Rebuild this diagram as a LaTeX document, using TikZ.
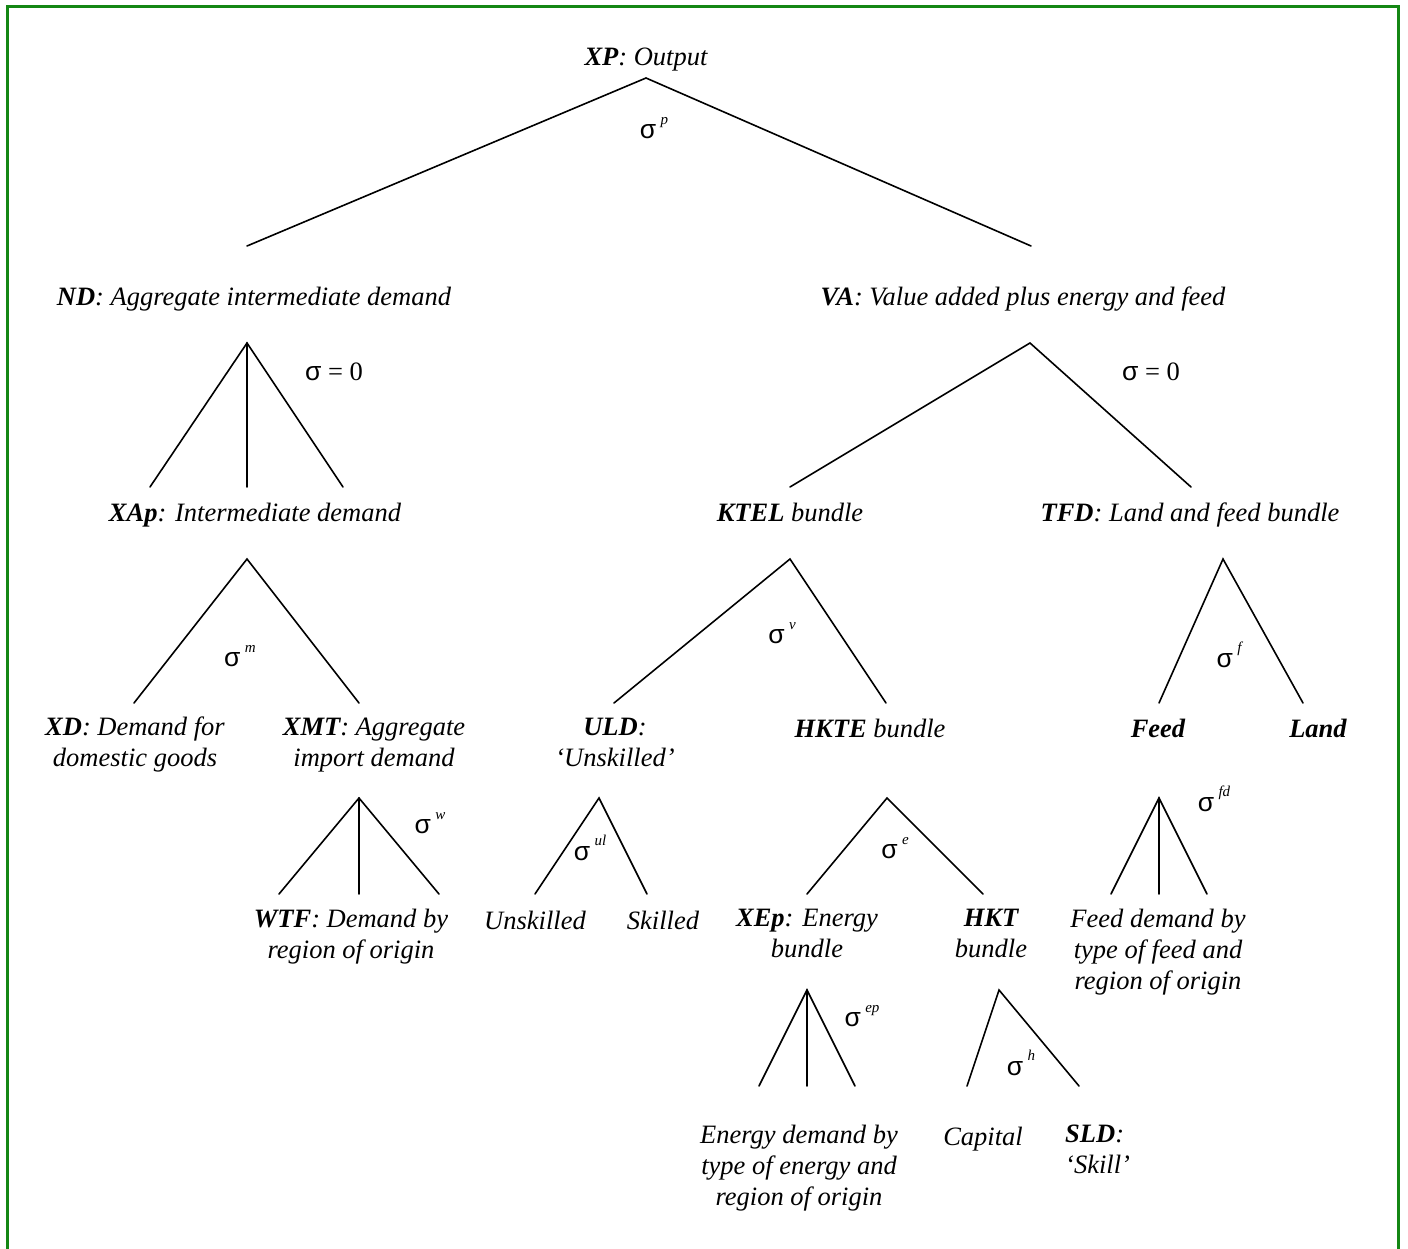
\documentclass[tikz,border=0pt]{standalone}
\usepackage{fontspec}
\setmainfont{Liberation Serif}
\newfontfamily\sigfont{Liberation Sans}
\newcommand\mysig{{\sigfont σ}}
\newcommand\mysup[1]{\,\raisebox{0.55em}{\fontsize{15}{15}\selectfont\itshape #1}}
\begin{document}
\begin{tikzpicture}[x=1pt,y=-1pt,
  lbl/.style={font=\fontsize{26.5}{31}\selectfont\itshape, inner sep=0pt, align=center,
    execute at begin node=\strut, execute at end node=\strut},
  sig/.style={font=\fontsize{26.5}{31}\selectfont\upshape, inner sep=0pt},
  branch/.style={line width=1.6pt, line cap=round},
  frame/.style={draw={rgb,255:red,20;green,135;blue,20}, line width=3pt}]
\useasboundingbox (0,0) rectangle (1408,1249);
\draw[frame] (7,1260) -- (7,7) -- (1398.5,7) -- (1398.5,1260);

% ---------- text nodes ----------
\node[lbl] (XP) at (646,59) {\textbf{XP}: Output};
\node[lbl] (ND) at (254,299) {\textbf{ND}: Aggregate intermediate demand};
\node[lbl] (VA) at (1023,299) {\textbf{VA}: Value added plus energy and feed};
\node[lbl] (XAp) at (255,515) {\textbf{XAp}: Intermediate demand};
\node[lbl] (KTEL) at (790,515) {\textbf{KTEL} bundle};
\node[lbl] (TFD) at (1190,515) {\textbf{TFD}: Land and feed bundle};
\node[lbl] (XD) at (135,746.5) {\textbf{XD}: Demand for\\domestic goods};
\node[lbl] (XMT) at (374,746.5) {\textbf{XMT}: Aggregate\\import demand};
\node[lbl] (ULD) at (615,746.5) {\textbf{ULD}:\\‘Unskilled’};
\node[lbl] (HKTE) at (870,731) {\textbf{HKTE} bundle};
\node[lbl] (Feed) at (1158,731) {\textbf{Feed}};
\node[lbl] (Land) at (1318,731) {\textbf{Land}};
\node[lbl] (WTF) at (351,938) {\textbf{WTF}: Demand by\\region of origin};
\node[lbl] (Unsk) at (535,923) {Unskilled};
\node[lbl] (Skil) at (663,923) {Skilled};
\node[lbl] (XEp) at (807,938) {\textbf{XEp}: Energy\\bundle};
\node[lbl] (HKT) at (991,938) {\textbf{HKT}\\bundle};
\node[lbl] (FeedDem) at (1158,953.5) {Feed demand by\\type of feed and\\region of origin};
\node[lbl] (EnDem) at (799,1169.5) {Energy demand by\\type of energy and\\region of origin};
\node[lbl] (Cap) at (983,1139) {Capital};
\node[lbl, align=left, anchor=west] (SLD) at (1065,1154) {\textbf{SLD}:\\‘Skill’};

% ---------- elasticity labels ----------
\node[sig] (sp) at (654,128) {\mysig\mysup{p}};
\node[sig] (s0a) at (334,372) {\mysig{} = 0};
\node[sig] (s0b) at (1151,372) {\mysig{} = 0};
\node[sig] (sm) at (240,656) {\mysig\mysup{m}};
\node[sig] (sv) at (782,633) {\mysig\mysup{v}};
\node[sig] (sf) at (1229,655) {\mysig\mysup{f}};
\node[sig] (sw) at (430,823) {\mysig\mysup{w}};
\node[sig] (sul) at (590,848) {\mysig\mysup{ul}};
\node[sig] (se) at (895,848) {\mysig\mysup{e}};
\node[sig] (sfd) at (1214,799) {\mysig\mysup{fd}};
\node[sig] (sep) at (862,1016) {\mysig\mysup{ep}};
\node[sig] (sh) at (1021,1063) {\mysig\mysup{h}};

% ---------- branch coordinates ----------
\coordinate (xpA) at (646,78);
\coordinate (xpL) at (247,246);
\coordinate (xpR) at (1031,246);
\coordinate (ndA) at (247,343);
\coordinate (ndL) at (150,487);
\coordinate (ndM) at (247,487);
\coordinate (ndR) at (343,487);
\coordinate (vaA) at (1030,343);
\coordinate (vaL) at (790,487);
\coordinate (vaR) at (1191,487);
\coordinate (xaA) at (247,559);
\coordinate (xaL) at (134,703);
\coordinate (xaR) at (359,703);
\coordinate (ktA) at (790,559);
\coordinate (ktL) at (614,703);
\coordinate (ktR) at (886,703);
\coordinate (tfA) at (1223,559);
\coordinate (tfL) at (1159,703);
\coordinate (tfR) at (1303,703);
\coordinate (xmA) at (359,798);
\coordinate (xmL) at (279,894);
\coordinate (xmM) at (359,894);
\coordinate (xmR) at (439,894);
\coordinate (ulA) at (599,798);
\coordinate (ulL) at (535,894);
\coordinate (ulR) at (647,894);
\coordinate (hkeA) at (887,798);
\coordinate (hkeL) at (807,894);
\coordinate (hkeR) at (983,894);
\coordinate (fdA) at (1159,798);
\coordinate (fdL) at (1111,894);
\coordinate (fdM) at (1159,894);
\coordinate (fdR) at (1207,894);
\coordinate (xeA) at (807,990);
\coordinate (xeL) at (759,1086);
\coordinate (xeM) at (807,1086);
\coordinate (xeR) at (855,1086);
\coordinate (hkA) at (999,990);
\coordinate (hkL) at (967,1086);
\coordinate (hkR) at (1079,1086);

% ---------- branches ----------
\draw[branch] (xpL) -- (xpA) -- (xpR);
\draw[branch] (ndL) -- (ndA) -- (ndR);
\draw[branch] (ndA) -- (ndM);
\draw[branch] (vaL) -- (vaA) -- (vaR);
\draw[branch] (xaL) -- (xaA) -- (xaR);
\draw[branch] (ktL) -- (ktA) -- (ktR);
\draw[branch] (tfL) -- (tfA) -- (tfR);
\draw[branch] (xmL) -- (xmA) -- (xmR);
\draw[branch] (xmA) -- (xmM);
\draw[branch] (ulL) -- (ulA) -- (ulR);
\draw[branch] (hkeL) -- (hkeA) -- (hkeR);
\draw[branch] (fdL) -- (fdA) -- (fdR);
\draw[branch] (fdA) -- (fdM);
\draw[branch] (xeL) -- (xeA) -- (xeR);
\draw[branch] (xeA) -- (xeM);
\draw[branch] (hkL) -- (hkA) -- (hkR);
\end{tikzpicture}
\end{document}
